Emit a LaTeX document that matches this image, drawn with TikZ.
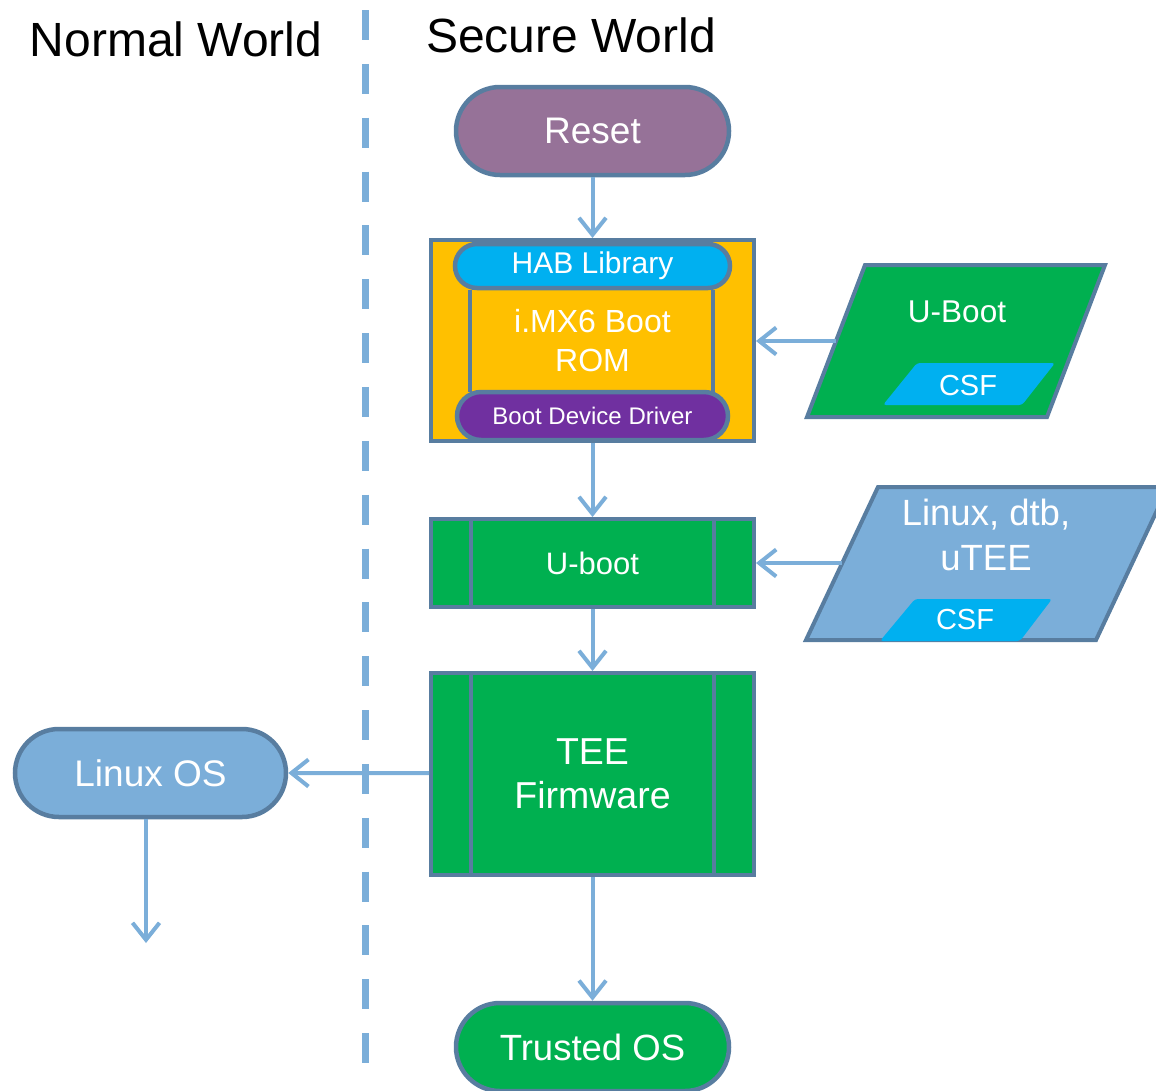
\documentclass[tikz,border=0pt]{standalone}
\usepackage{fontspec}
\setmainfont{Liberation Sans}
\usetikzlibrary{shapes.misc,arrows.meta}
\definecolor{edgec}{RGB}{88,125,160}
\definecolor{arrc}{RGB}{123,174,217}
\definecolor{resetc}{RGB}{150,114,152}
\definecolor{goldc}{RGB}{255,192,0}
\definecolor{cyanc}{RGB}{0,176,240}
\definecolor{purpc}{RGB}{112,48,160}
\definecolor{greenc}{RGB}{0,176,80}
\definecolor{lbluec}{RGB}{123,174,217}
\begin{document}
\begin{tikzpicture}[x=1pt,y=-1pt,
  edge/.style={draw=edgec, line width=4pt},
  term/.style={rounded rectangle, draw=edgec, line width=4.5pt, inner sep=0pt, text=white},
  blk/.style={rectangle, draw=edgec, line width=4pt, inner sep=0pt, text=white},
  conn/.style={draw=arrc, line width=4pt, -{Straight Barb[length=17pt,width=27pt]}},
  title/.style={anchor=base, inner sep=0pt, font=\fontsize{48}{57}\selectfont},
  wtxt/.style={text=white, inner sep=0pt, align=center},
]
\useasboundingbox (0,0) rectangle (1156,1090);

% dashed separator
\draw[draw=arrc, line width=7pt, dash pattern=on 30pt off 23.85pt] (365,10) -- (365,1063);

% titles
\node[title] (nw) at (176,56) {Normal World};
\node[title] (sw) at (571,52) {Secure World};

% Reset
\node[term, fill=resetc, minimum width=273pt, minimum height=88pt,
      font=\fontsize{37}{44}\selectfont] (reset) at (592.5,131) {Reset};

% Boot ROM block
\node[blk, fill=goldc, minimum width=323pt, minimum height=201pt] (rom) at (592.5,340.5) {};
\draw[edge] (470,290) -- (470,392);
\draw[edge] (713,290) -- (713,392);
\node[wtxt, font=\fontsize{32}{39}\selectfont] (romt) at (592.5,341) {i.MX6 Boot\\ROM};
\node[term, fill=cyanc, minimum width=275pt, minimum height=44pt,
      font=\fontsize{30}{36}\selectfont] (hab) at (592.5,266) {HAB Library};
\node[term, fill=purpc, minimum width=271pt, minimum height=48pt,
      font=\fontsize{24}{29}\selectfont] (bdd) at (592.5,416) {Boot Device Driver};

% U-boot block
\node[blk, fill=greenc, minimum width=323pt, minimum height=88pt,
      font=\fontsize{31}{37}\selectfont] (uboot) at (592.5,563) {U-boot};
\draw[edge] (471,519) -- (471,607);
\draw[edge] (714,519) -- (714,607);

% TEE block
\node[blk, fill=greenc, minimum width=323pt, minimum height=202pt,
      font=\fontsize{37.5}{44}\selectfont, align=center] (tee) at (592.5,774) {TEE\\Firmware};
\draw[edge] (471,673) -- (471,875);
\draw[edge] (714,673) -- (714,875);

% Trusted OS
\node[term, fill=greenc, minimum width=273pt, minimum height=88pt,
      font=\fontsize{36.5}{43}\selectfont] (tos) at (592.5,1047) {Trusted OS};

% Linux OS
\node[term, fill=lbluec, minimum width=271pt, minimum height=88pt,
      font=\fontsize{37}{44}\selectfont] (los) at (150.5,773) {Linux OS};

% U-Boot image parallelogram
\draw[edge, fill=greenc] (807,417) -- (865,265) -- (1105,265) -- (1047,417) -- cycle;
\fill[cyanc, rounded corners=3pt] (883,405) -- (917,363) -- (1055,363) -- (1022,405) -- cycle;
\node[wtxt, font=\fontsize{31.5}{37}\selectfont] (ubimg) at (957,311.7) {U-Boot};
\node[wtxt, font=\fontsize{29}{35}\selectfont] (csfa) at (968,385.6) {CSF};
\coordinate (ubin) at (836,341);

% Linux, dtb, uTEE parallelogram
\draw[edge, fill=lbluec] (806,640) -- (878,487) -- (1168,487) -- (1096,640) -- cycle;
\fill[cyanc, rounded corners=3pt] (880,641) -- (915,599) -- (1052,599) -- (1020,641) -- cycle;
\node[wtxt, font=\fontsize{36.5}{45}\selectfont] (lximg) at (986,534.5) {Linux, dtb,\\uTEE};
\node[wtxt, font=\fontsize{29}{35}\selectfont] (csfb) at (965,619.6) {CSF};
\coordinate (lxin) at (842,563);

% connectors
\draw[conn] (reset) -- (hab.north |- rom.north);
\draw[conn] (rom) -- (uboot);
\draw[conn] (uboot) -- (tee);
\draw[conn] (tee) -- (tos);
\draw[conn] (ubin) -- (rom.east |- ubin);
\draw[conn] (lxin) -- (uboot.east |- lxin);
\draw[conn] (tee.west |- los) -- (los);
\coordinate (losend) at (146,943);
\draw[conn] (losend |- los.south) -- (losend);
\end{tikzpicture}
\end{document}
